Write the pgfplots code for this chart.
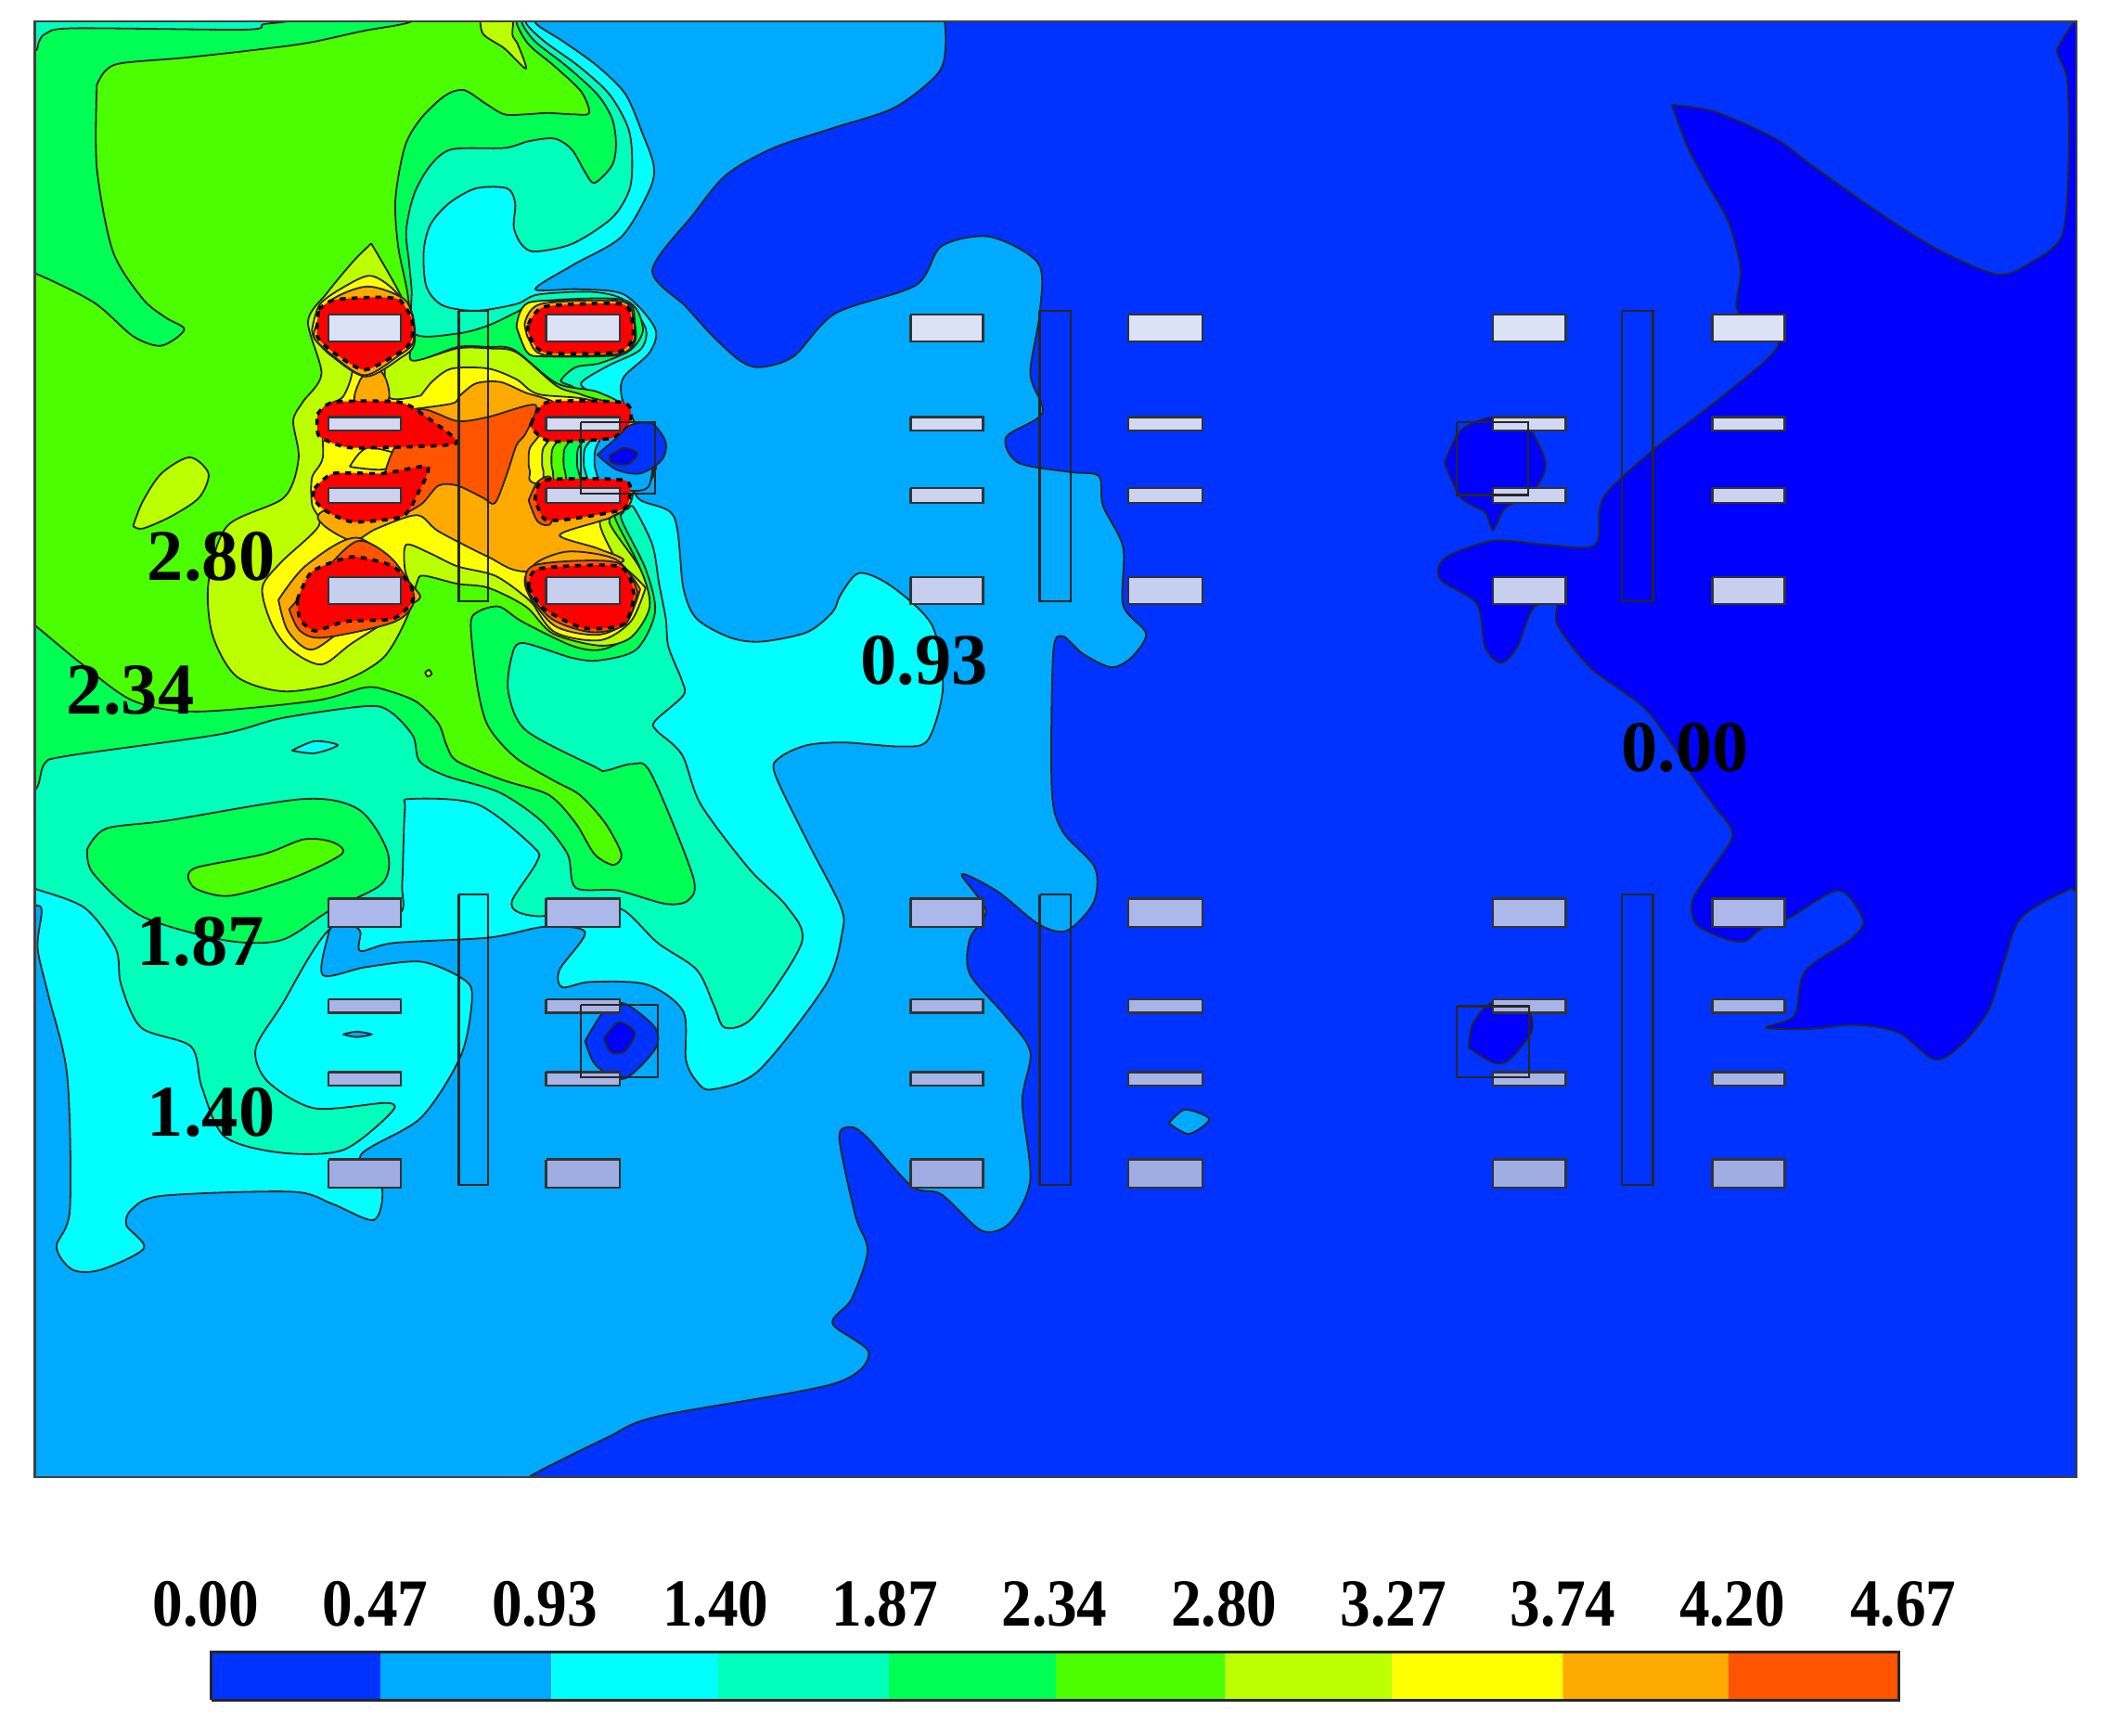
\documentclass[border=0pt]{standalone}
\usepackage{fontspec}
\setmainfont{Liberation Serif}
\usepackage{pgfplots}
\pgfplotsset{compat=1.18}
\definecolor{c0}{HTML}{0000FF}
\definecolor{c1}{HTML}{0033FF}
\definecolor{c2}{HTML}{00AAFF}
\definecolor{c3}{HTML}{00FFFF}
\definecolor{c4}{HTML}{00FFBB}
\definecolor{c5}{HTML}{00FF55}
\definecolor{c6}{HTML}{4CFF00}
\definecolor{c7}{HTML}{BBFF00}
\definecolor{c8}{HTML}{FFFF00}
\definecolor{c9}{HTML}{FFAA00}
\definecolor{c10}{HTML}{FF5500}
\definecolor{c11}{HTML}{FF0000}
\definecolor{r1}{HTML}{DCE2F5}
\definecolor{r2}{HTML}{D2D9F1}
\definecolor{r3}{HTML}{CBD3EF}
\definecolor{r4}{HTML}{C6CFEE}
\definecolor{r5}{HTML}{ACB8E9}
\definecolor{r6}{HTML}{A8B4E6}
\definecolor{r7}{HTML}{9FADE3}
\pgfplotsset{
  cont/.style={fill=#1,draw=black!85,line width=.45pt,smooth,tension=.5},
  block/.style={fill=c11,draw=black,line width=.9pt,dash pattern=on 1.6pt off 1.6pt,smooth,tension=.4},
  rc/.style={fill=#1,draw=black!80,line width=.6pt,sharp plot},
  outl/.style={draw=black!85,line width=.6pt,sharp plot,fill=none}
}
\newcommand{\rct}[5]{\addplot[rc=#5] coordinates {(#1,#3)(#2,#3)(#2,#4)(#1,#4)(#1,#3)};}
\newcommand{\tl}[1]{\scalebox{.9}[1]{#1}}
\begin{document}
\begin{tikzpicture}[x=1pt,y=1pt]
\useasboundingbox (0,0) rectangle (564.48,464.4);
\begin{axis}[at={(9.36pt,69.12pt)},anchor=south west,scale only axis,width=546.48pt,height=389.52pt,
  xmin=26,xmax=1544,ymin=16,ymax=1098,y dir=reverse,xtick=\empty,ytick=\empty,axis on top,
  axis line style={black!75,line width=.6pt}]
% base level
\addplot[fill=c1,draw=none,sharp plot] coordinates {(0,0)(1600,0)(1600,1200)(0,1200)(0,0)};
% deep blue
\addplot[cont=c0] coordinates {(1243,78)(1275,83)(1320,103)(1346,122)(1394,156)(1440,185)(1485,204)(1510,195)(1533,175)(1538,120)(1537,60)(1530,35)(1560,25)(1570,300)(1560,655)(1539,661)(1503,682)(1490,715)(1479,750)(1460,775)(1439,788)(1412,768)(1380,762)(1345,765)(1313,764)(1334,755)(1342,722)(1376,698)(1385,684)(1367,662)(1331,682)(1310,690)(1297,700)(1280,697)(1261,687)(1258,670)(1270,650)(1288,621)(1275,600)(1261,581)(1225,529)(1183,497)(1158,465)(1157,449)(1140,452)(1128,481)(1116,493)(1104,481)(1098,449)(1071,431)(1074,415)(1110,402)(1150,405)(1186,405)(1192,370)(1231,333)(1280,295)(1322,257)(1300,240)(1291,228)(1294,200)(1285,165)(1270,138)(1255,110)(1243,78)};
\addplot[cont=c0] coordinates {(1074,344)(1086,320)(1110,310)(1134,315)(1149,344)(1140,365)(1119,378)(1110,394)(1104,381)(1086,370)(1074,344)};
\addplot[cont=c0] coordinates {(1092,779)(1110,790)(1122,788)(1139,766)(1134,748)(1110,745)(1095,761)(1092,779)};
% 0.47 level
\addplot[cont=c2] coordinates {(10,5)(300,5)(600,5)(690,5)(701,10)(703,35)(697,55)(665,80)(620,95)(575,110)(540,130)(515,160)(485,201)(510,228)(530,250)(550,268)(565,273)(590,265)(621,233)(681,212)(700,183)(736,176)(772,196)(773,233)(766,278)(775,307)(748,325)(757,344)(796,351)(817,354)(820,376)(835,407)(835,450)(852,471)(841,489)(826,496)(805,486)(790,473)(783,486)(782,587)(790,618)(814,645)(813,671)(793,692)(772,687)(742,663)(715,650)(733,677)(721,698)(721,724)(748,756)(766,782)(760,819)(766,877)(751,909)(730,915)(700,888)(678,882)(645,846)(633,838)(624,846)(636,904)(645,930)(633,966)(619,984)(646,1006)(619,1029)(489,1053)(451,1069)(395,1097)(380,1110)(10,1110)(10,5)};
\addplot[cont=c2] coordinates {(869,835)(881,825)(899,832)(884,843)(869,835)};
% 0.93 level
\addplot[cont=c3] coordinates {(10,5)(398,5)(398,17)(419,31)(444,49)(465,70)(478,100)(486,123)(483,141)(462,176)(426,197)(398,215)(430,215)(464,219)(487,244)(483,262)(464,280)(462,294)(470,320)(466,340)(474,370)(501,384)(508,437)(518,460)(543,474)(566,477)(600,470)(619,455)(625,442)(639,426)(663,436)(693,465)(701,511)(690,550)(670,555)(628,552)(600,554)(580,563)(576,575)(600,625)(625,674)(626,694)(614,732)(564,796)(529,810)(518,804)(510,788)(508,752)(481,732)(439,730)(418,734)(416,721)(435,693)(405,689)(364,697)(293,701)(268,707)(268,693)(262,688)(248,688)(244,695)(240,725)(272,719)(313,715)(343,727)(351,740)(343,784)(313,831)(268,859)(284,883)(278,907)(247,895)(217,886)(121,889)(98,899)(94,911)(107,928)(75,944)(54,944)(42,927)(52,899)(50,800)(36,740)(28,705)(31,677)(26,673)(10,673)(10,5)};
% 1.40 level
\addplot[cont=c4] coordinates {(10,5)(391,5)(391,17)(405,31)(430,49)(453,70)(467,95)(470,118)(468,141)(455,162)(426,181)(398,187)(388,182)(382,169)(383,151)(377,140)(354,140)(334,151)(320,167)(315,187)(317,213)(329,227)(354,231)(384,226)(400,219)(440,217)(464,223)(480,244)(476,260)(452,272)(432,285)(445,295)(468,310)(465,375)(471,377)(485,405)(490,434)(495,460)(497,481)(507,506)(508,517)(487,536)(488,543)(507,561)(521,598)(557,646)(585,674)(596,701)(560,756)(539,764)(531,748)(518,721)(489,701)(464,677)(440,672)(405,681)(385,678)(381,669)(399,641)(397,630)(355,598)(305,594)(301,602)(299,657)(296,680)(247,689)(209,748)(190,780)(199,804)(234,824)(288,820)(290,828)(255,855)(209,857)(167,845)(150,808)(142,778)(105,764)(90,732)(86,705)(63,675)(27,661)(10,655)(10,5)};
\addplot[cont=c3] coordinates {(217,558)(234,551)(251,554)(234,560)(217,558)};
\addplot[cont=c2] coordinates {(255,769)(265,767)(276,769)(265,771)(255,769)};
% 1.87 level
\addplot[cont=c5] coordinates {(10,38)(26,38)(29,31)(34,25)(55,21)(182,22)(196,18)(216,15)(216,5)(388,5)(388,17)(398,31)(421,49)(444,70)(455,88)(458,107)(455,123)(442,136)(435,128)(425,111)(412,103)(393,105)(375,110)(336,111)(320,123)(308,144)(302,171)(304,194)(306,215)(308,248)(340,248)(363,242)(386,231)(400,224)(464,223)(478,244)(469,260)(446,270)(428,273)(417,283)(425,287)(437,294)(468,310)(465,375)(462,386)(480,423)(487,455)(473,483)(445,491)(425,489)(388,478)(380,490)(378,515)(391,543)(442,570)(450,573)(470,568)(484,575)(515,651)(512,669)(495,672)(459,662)(428,660)(422,635)(402,610)(371,589)(332,577)(312,566)(307,547)(290,529)(272,525)(209,534)(163,546)(50,562)(33,568)(27,586)(10,590)(10,38)};
\addplot[cont=c5] coordinates {(65,631)(69,649)(105,681)(167,699)(209,699)(245,677)(284,657)(288,633)(267,602)(226,594)(125,610)(79,616)(65,631)};
\addplot[cont=c6] coordinates {(140,653)(146,645)(196,635)(226,624)(247,626)(254,635)(217,653)(171,666)(146,661)(140,653)};
% 2.34 level
\addplot[cont=c6] coordinates {(72,63)(78,53)(90,47)(136,43)(182,38)(228,32)(270,23)(306,16)(306,5)(384,5)(384,17)(393,33)(412,49)(432,68)(438,84)(426,85)(407,84)(391,85)(375,85)(361,77)(345,67)(331,71)(313,88)(301,109)(294,148)(296,183)(303,218)(306,248)(306,269)(340,258)(363,258)(382,260)(414,285)(446,292)(468,310)(465,375)(457,384)(476,423)(481,453)(470,472)(447,483)(425,480)(388,462)(371,451)(355,455)(350,465)(355,511)(363,540)(383,563)(411,580)(431,591)(450,612)(462,635)(456,643)(442,635)(428,612)(408,591)(374,580)(340,566)(332,554)(326,538)(310,522)(290,514)(272,511)(234,521)(146,529)(99,521)(60,493)(26,465)(10,455)(10,200)(28,204)(70,225)(99,250)(120,257)(137,245)(123,236)(106,222)(84,187)(72,125)(72,63)};
% 2.80 level
\addplot[cont=c7] coordinates {(357,10)(359,25)(375,36)(391,51)(385,33)(381,26)(380,10)(357,10)};
\addplot[cont=c7] coordinates {(99,391)(106,373)(120,352)(141,340)(155,352)(148,370)(127,384)(106,393)(99,391)};
\addplot[cont=c7] coordinates {(276,181)(290,205)(299,222)(308,246)(306,268)(340,259)(363,259)(384,262)(414,287)(434,294)(468,310)(465,375)(453,388)(476,423)(483,451)(469,474)(446,480)(411,471)(391,451)(363,437)(340,434)(315,428)(310,433)(303,458)(285,489)(253,507)(211,514)(176,503)(158,472)(155,433)(169,391)(211,370)(222,341)(218,313)(225,299)(239,278)(229,239)(243,218)(262,195)(276,181)};
\addplot[cont=c7] coordinates {(316,500)(319,498)(321,501)(318,503)(316,500)};
% 3.27 level
\addplot[cont=c8] coordinates {(313,294)(322,283)(336,274)(363,274)(384,282)(400,293)(440,298)(465,320)(465,375)(446,388)(460,420)(470,440)(465,465)(440,472)(410,462)(391,444)(368,428)(340,421)(319,411)(302,405)(301,423)(306,437)(308,444)(301,453)(262,478)(239,494)(216,483)(202,464)(195,437)(209,418)(237,391)(232,375)(232,355)(240,340)(240,305)(255,295)(262,275)(255,262)(290,262)(286,275)(290,296)(313,294)};
% 3.74 level
\addplot[cont=c9] coordinates {(300,305)(336,300)(342,294)(354,285)(372,284)(391,292)(410,298)(430,310)(470,310)(470,370)(455,384)(444,388)(416,398)(445,408)(462,418)(391,425)(363,414)(326,395)(310,383)(280,393)(262,402)(240,390)(240,380)(290,360)(300,305)};
\addplot[cont=c9] coordinates {(268,282)(278,272)(287,282)(288,298)(264,298)(268,282)};
\addplot[cont=c8] coordinates {(260,347)(273,333)(301,340)(285,349)(260,347)};
% 4.20 level
\addplot[cont=c10] coordinates {(290,340)(310,305)(340,313)(363,310)(398,301)(391,322)(384,331)(377,352)(368,374)(359,370)(340,361)(326,361)(313,375)(295,382)(285,360)(290,340)};
% falloff between the two right blocks
\addplot[cont=c8] coordinates {(401,324)(394,333)(393,342)(394,350)(401,360)(480,360)(480,324)(401,324)};
\addplot[cont=c7] coordinates {(411,324)(404,333)(403,342)(404,350)(411,360)(480,360)(480,324)(411,324)};
\addplot[cont=c6] coordinates {(418,324)(411,333)(410,342)(411,350)(418,360)(480,360)(480,324)(418,324)};
\addplot[cont=c5] coordinates {(427,324)(420,333)(419,342)(420,350)(427,360)(480,360)(480,324)(427,324)};
\addplot[cont=c4] coordinates {(437,324)(430,333)(429,342)(430,350)(437,360)(480,360)(480,324)(437,324)};
\addplot[cont=c3] coordinates {(442,324)(435,333)(434,342)(435,350)(442,360)(480,360)(480,324)(442,324)};
\addplot[cont=c2] coordinates {(450,320)(443,333)(442,342)(443,350)(450,362)(482,362)(482,320)(450,320)};
% halos round the blocks
\addplot[cont=c8] coordinates {(232,245)(238,226)(258,212)(275,205)(290,213)(306,232)(308,256)(298,266)(272,280)(247,265)(234,252)(232,245)};
\addplot[cont=c9] coordinates {(234,245)(245,224)(273,213)(300,222)(307,237)(307,255)(297,264)(271,279)(247,264)(234,252)(234,245)};
\addplot[cont=c8] coordinates {(384,243)(393,225)(440,224)(468,226)(472,240)(472,254)(460,264)(405,265)(392,262)(384,243)};
\addplot[cont=c9] coordinates {(390,241)(402,226)(462,224)(471,238)(471,254)(460,263)(405,264)(393,252)(390,241)};
\addplot[cont=c9] coordinates {(207,446)(214,469)(232,483)(262,464)(308,448)(308,437)(267,400)(228,420)(207,446)};
\addplot[cont=c10] coordinates {(215,453)(223,469)(241,474)(294,462)(308,444)(292,416)(267,402)(244,421)(215,453)};
\addplot[cont=c8] coordinates {(480,437)(469,462)(446,476)(411,469)(391,437)(395,423)(423,414)(458,418)(480,437)};
\addplot[cont=c9] coordinates {(476,438)(466,462)(444,472)(412,465)(391,437)(398,419)(423,410)(458,416)(476,438)};
\addplot[cont=c10] coordinates {(474,440)(465,464)(440,470)(410,460)(392,437)(398,420)(458,418)(474,440)};
\addplot[cont=c10] coordinates {(393,372)(400,358)(410,356)(410,388)(400,388)(393,372)};
% red blocks
\addplot[block] coordinates {(237,230)(248,223)(280,221)(297,223)(306,237)(306,253)(297,262)(271,275)(248,262)(236,250)(237,230)};
\addplot[block] coordinates {(236,308)(248,299)(297,299)(317,310)(340,329)(308,332)(269,333)(255,332)(237,324)(236,308)};
\addplot[block] coordinates {(234,363)(248,352)(285,352)(318,347)(310,368)(299,384)(262,388)(241,379)(233,370)(234,363)};
\addplot[block] coordinates {(221,446)(232,425)(262,414)(292,421)(306,437)(306,448)(292,460)(257,462)(234,469)(223,460)(221,446)};
\addplot[block] coordinates {(393,241)(405,228)(462,226)(470,239)(470,253)(458,262)(405,262)(393,248)(393,241)};
\addplot[block] coordinates {(395,315)(407,299)(462,299)(469,306)(467,317)(453,326)(409,328)(395,318)(395,315)};
\addplot[block] coordinates {(398,372)(405,357)(464,357)(468,370)(462,379)(423,386)(405,386)(398,372)};
\addplot[block] coordinates {(393,437)(400,423)(460,421)(471,441)(464,464)(434,467)(405,453)(393,437)};
% low spots at the square frames
\addplot[cont=c1] coordinates {(444,338)(458,326)(469,316)(485,315)(495,329)(492,342)(476,352)(458,349)(444,338)};
\addplot[cont=c0] coordinates {(453,339)(464,333)(474,337)(467,345)(455,344)(453,339)};
\addplot[cont=c1] coordinates {(435,774)(449,752)(464,746)(487,764)(487,780)(464,802)(443,792)(435,774)};
\addplot[cont=c0] coordinates {(449,772)(460,760)(472,768)(464,782)(454,782)(449,772)};
% rectangles, upper rows
\rct{244}{298}{234}{254}{r1}\rct{406}{461}{234}{254}{r1}\rct{677}{731}{234}{254}{r1}\rct{839}{894}{234}{254}{r1}\rct{1110}{1164}{234}{254}{r1}\rct{1273}{1327}{234}{254}{r1}
\rct{244}{298}{310}{320}{r2}\rct{406}{461}{310}{320}{r2}\rct{677}{731}{310}{320}{r2}\rct{839}{894}{310}{320}{r2}\rct{1110}{1164}{310}{320}{r2}\rct{1273}{1327}{310}{320}{r2}
\rct{244}{298}{363}{374}{r3}\rct{406}{461}{363}{374}{r3}\rct{677}{731}{363}{374}{r3}\rct{839}{894}{363}{374}{r3}\rct{1110}{1164}{363}{374}{r3}\rct{1273}{1327}{363}{374}{r3}
\rct{244}{298}{429}{449}{r4}\rct{406}{461}{429}{449}{r4}\rct{677}{731}{429}{449}{r4}\rct{839}{894}{429}{449}{r4}\rct{1110}{1164}{429}{449}{r4}\rct{1273}{1327}{429}{449}{r4}
% rectangles, lower rows
\rct{244}{298}{668}{689}{r5}\rct{406}{461}{668}{689}{r5}\rct{677}{731}{668}{689}{r5}\rct{839}{894}{668}{689}{r5}\rct{1110}{1164}{668}{689}{r5}\rct{1273}{1327}{668}{689}{r5}
\rct{244}{298}{743}{753}{r6}\rct{406}{461}{743}{753}{r6}\rct{677}{731}{743}{753}{r6}\rct{839}{894}{743}{753}{r6}\rct{1110}{1164}{743}{753}{r6}\rct{1273}{1327}{743}{753}{r6}
\rct{244}{298}{797}{807}{r6}\rct{406}{461}{797}{807}{r6}\rct{677}{731}{797}{807}{r6}\rct{839}{894}{797}{807}{r6}\rct{1110}{1164}{797}{807}{r6}\rct{1273}{1327}{797}{807}{r6}
\rct{244}{298}{862}{883}{r7}\rct{406}{461}{862}{883}{r7}\rct{677}{731}{862}{883}{r7}\rct{839}{894}{862}{883}{r7}\rct{1110}{1164}{862}{883}{r7}\rct{1273}{1327}{862}{883}{r7}
% tall bars and square frames, outlines only
\addplot[outl] coordinates {(341,231)(363,231)(363,447)(341,447)(341,231)};
\addplot[outl] coordinates {(773,231)(796,231)(796,447)(773,447)(773,231)};
\addplot[outl] coordinates {(1206,231)(1229,231)(1229,447)(1206,447)(1206,231)};
\addplot[outl] coordinates {(341,665)(363,665)(363,881)(341,881)(341,665)};
\addplot[outl] coordinates {(773,665)(796,665)(796,881)(773,881)(773,665)};
\addplot[outl] coordinates {(1206,665)(1229,665)(1229,881)(1206,881)(1206,665)};
\addplot[outl] coordinates {(432,314)(487,314)(487,367)(432,367)(432,314)};
\addplot[outl] coordinates {(432,747)(489,747)(489,801)(432,801)(432,747)};
\addplot[outl] coordinates {(1083,314)(1136,314)(1136,368)(1083,368)(1083,314)};
\addplot[outl] coordinates {(1083,748)(1137,748)(1137,801)(1083,801)(1083,748)};
% level labels
\node[font=\fontsize{19.5}{21}\selectfont\bfseries] at (axis cs:157,414) {2.80};
\node[font=\fontsize{19.5}{21}\selectfont\bfseries] at (axis cs:97,513) {2.34};
\node[font=\fontsize{19.5}{21}\selectfont\bfseries] at (axis cs:149,700) {1.87};
\node[font=\fontsize{19.5}{21}\selectfont\bfseries] at (axis cs:157,827) {1.40};
\node[font=\fontsize{19.5}{21}\selectfont\bfseries] at (axis cs:687,491) {0.93};
\node[font=\fontsize{19.5}{21}\selectfont\bfseries] at (axis cs:1253,556) {0.00};
\end{axis}
% colour bar
\begin{axis}[at={(54pt,9.36pt)},anchor=south west,scale only axis,width=457.2pt,height=12.96pt,
  xmin=150,xmax=1420,ymin=0,ymax=1,ytick=\empty,clip=false,
  xtick={153,279,405,532,658,784,910,1036,1162,1288,1415},
  xticklabels={\tl{0.00},\tl{0.47},\tl{0.93},\tl{1.40},\tl{1.87},\tl{2.34},\tl{2.80},\tl{3.27},\tl{3.74},\tl{4.20},\tl{4.67}},
  xticklabel pos=upper,major tick length=0pt,
  x tick label style={font=\fontsize{18}{20}\selectfont\bfseries,yshift=3pt},
  axis line style={draw=none}]
\addplot[fill=c1,draw=none,sharp plot] coordinates {(157,0)(283,0)(283,1)(157,1)(157,0)};
\addplot[fill=c2,draw=none,sharp plot] coordinates {(283,0)(410,0)(410,1)(283,1)(283,0)};
\addplot[fill=c3,draw=none,sharp plot] coordinates {(410,0)(534,0)(534,1)(410,1)(410,0)};
\addplot[fill=c4,draw=none,sharp plot] coordinates {(534,0)(661,0)(661,1)(534,1)(534,0)};
\addplot[fill=c5,draw=none,sharp plot] coordinates {(661,0)(785,0)(785,1)(661,1)(661,0)};
\addplot[fill=c6,draw=none,sharp plot] coordinates {(785,0)(911,0)(911,1)(785,1)(785,0)};
\addplot[fill=c7,draw=none,sharp plot] coordinates {(911,0)(1035,0)(1035,1)(911,1)(911,0)};
\addplot[fill=c8,draw=none,sharp plot] coordinates {(1035,0)(1162,0)(1162,1)(1035,1)(1035,0)};
\addplot[fill=c9,draw=none,sharp plot] coordinates {(1162,0)(1285,0)(1285,1)(1162,1)(1162,0)};
\addplot[fill=c10,draw=none,sharp plot] coordinates {(1285,0)(1412,0)(1412,1)(1285,1)(1285,0)};
\addplot[draw=black!85,line width=.7pt,sharp plot] coordinates {(157,0)(1412,0)(1412,1)(157,1)(157,0)};
\end{axis}
\end{tikzpicture}
\end{document}
